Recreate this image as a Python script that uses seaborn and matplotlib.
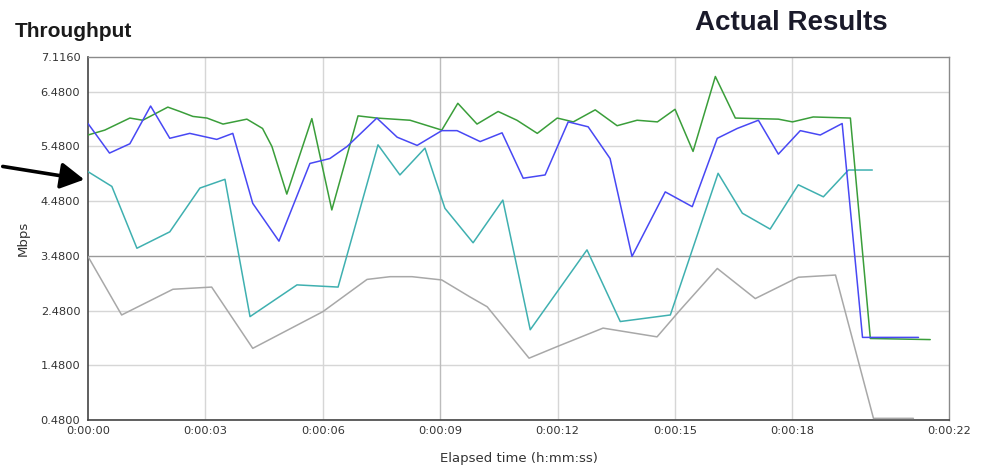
import matplotlib
matplotlib.use("Agg")
import matplotlib.pyplot as plt
import seaborn as sns
import pandas as pd

# Sample times (seconds) and throughput (Mbps) for each pair
green_t = [0.0, 0.43, 1.07, 1.40, 2.04, 2.35, 2.68, 3.04, 3.45, 4.06, 4.46, 4.70, 5.08,
           5.72, 6.23, 6.90, 7.38, 8.23, 9.04, 9.45, 9.94, 10.48, 10.96, 11.48, 11.99,
           12.40, 12.96, 13.52, 14.03, 14.55, 15.00, 15.46, 16.03, 16.54, 17.64, 18.00,
           18.53, 19.48, 19.99, 21.52]
green_v = [5.69, 5.78, 6.00, 5.96, 6.20, 6.12, 6.03, 6.00, 5.89, 5.98, 5.81, 5.48, 4.61,
           5.99, 4.32, 6.04, 6.00, 5.96, 5.78, 6.27, 5.89, 6.12, 5.96, 5.72, 6.00,
           5.93, 6.15, 5.86, 5.96, 5.93, 6.16, 5.39, 6.76, 6.00, 5.98, 5.93,
           6.02, 6.00, 1.97, 1.95]

blue_t = [0.0, 0.55, 1.07, 1.60, 2.09, 2.60, 3.29, 3.70, 4.21, 4.88, 5.67, 6.18, 6.62,
          7.38, 7.90, 8.41, 9.04, 9.43, 10.02, 10.58, 11.12, 11.68, 12.27, 12.78, 13.34,
          13.90, 14.75, 15.44, 16.08, 16.59, 17.13, 17.64, 18.20, 18.71, 19.27, 19.79,
          21.22]
blue_v = [5.90, 5.36, 5.53, 6.22, 5.63, 5.72, 5.61, 5.72, 4.44, 3.75, 5.17, 5.26, 5.48,
          6.00, 5.65, 5.50, 5.77, 5.77, 5.57, 5.73, 4.90, 4.96, 5.93, 5.84, 5.26,
          3.47, 4.65, 4.38, 5.63, 5.81, 5.96, 5.34, 5.77, 5.69, 5.90, 1.99,
          1.99]

teal_t = [0.0, 0.61, 1.25, 2.09, 2.86, 3.50, 4.14, 5.34, 6.39, 7.41, 7.97, 8.61, 9.12,
          9.84, 10.60, 11.30, 12.75, 13.60, 14.88, 16.10, 16.72, 17.43, 18.15, 18.79,
          19.43, 20.04]
teal_v = [5.02, 4.75, 3.62, 3.92, 4.72, 4.88, 2.37, 2.95, 2.91, 5.51, 4.96, 5.45, 4.35,
          3.72, 4.50, 2.13, 3.59, 2.28, 2.40, 4.99, 4.26, 3.97, 4.78, 4.56,
          5.05, 5.05]

grey_t = [0.0, 0.86, 2.17, 3.16, 4.21, 6.00, 7.13, 7.72, 8.28, 9.04, 9.76, 10.20, 11.27,
          11.98, 13.16, 14.54, 15.13, 16.08, 17.05, 18.15, 19.10, 20.07, 21.09]
grey_v = [3.47, 2.40, 2.87, 2.91, 1.79, 2.46, 3.05, 3.10, 3.10, 3.04, 2.73, 2.55, 1.61,
          1.82, 2.16, 2.00, 2.49, 3.25, 2.70, 3.09, 3.13, 0.51, 0.51]

y_ticks = [0.48, 1.48, 2.48, 3.48, 4.48, 5.48, 6.48, 7.116]
y_labels = ["0.4800", "1.4800", "2.4800", "3.4800", "4.4800", "5.4800", "6.4800", "7.1160"]
x_ticks = [0, 3, 6, 9, 12, 15, 18, 22]
x_labels = ["0:00:00", "0:00:03", "0:00:06", "0:00:09", "0:00:12", "0:00:15",
            "0:00:18", "0:00:22"]

sns.set_style("white")
plt.rcParams["font.family"] = ["DejaVu Sans"]

fig = plt.figure(figsize=(9.82, 4.70), dpi=100)
ax = fig.add_axes([0.0896, 0.1064, 0.8768, 0.7723])

# Grid lines behind the traces; the middle lines are drawn a bit darker
for y in y_ticks[:-1]:
    ax.axhline(y, color="#9a9a9a" if y == 3.48 else "#d6d6d6", lw=1.0, zorder=0)
for x in x_ticks[1:-1]:
    ax.axvline(x, color="#bcbcbc" if x == 9 else "#d6d6d6", lw=1.0, zorder=0)

series = [
    (grey_t, grey_v, "#a8a8a8"),
    (teal_t, teal_v, "#3fb0b0"),
    (green_t, green_v, "#3a9e3a"),
    (blue_t, blue_v, "#4848f4"),
]
for t, v, c in series:
    df = pd.DataFrame({"t": t, "v": v})
    sns.lineplot(data=df, x="t", y="v", color=c, linewidth=1.1, ax=ax, zorder=3)

ax.set_xlim(0, 22)
ax.set_ylim(0.48, 7.116)
ax.set_xticks(x_ticks)
ax.set_xticklabels(x_labels)
ax.set_yticks(y_ticks)
ax.set_yticklabels(y_labels)
ax.tick_params(axis="both", labelsize=8.2, colors="#444444", length=4, width=1,
               direction="out", pad=1.5)
ax.tick_params(axis="x", length=3)
for lab in ax.get_xticklabels() + ax.get_yticklabels():
    lab.set_color("#333333")

for side in ["left", "bottom"]:
    ax.spines[side].set_color("#444444")
    ax.spines[side].set_linewidth(1.2)
for side in ["top", "right"]:
    ax.spines[side].set_color("#8a8a8a")
    ax.spines[side].set_linewidth(1.0)

ax.set_xlabel("Elapsed time (h:mm:ss)", fontsize=9.5, color="#333333", labelpad=11.5)
ax.set_ylabel("Mbps", fontsize=9.5, color="#333333")
ax.yaxis.set_label_coords(-0.068, 0.5)

fig.text(0.015, 0.921, "Throughput", fontsize=15, fontweight="bold", color="#1a1a1a",
         family=["Liberation Sans", "DejaVu Sans"], va="baseline")
fig.text(0.806, 0.950, "Actual Results", fontsize=20, fontweight="bold",
         color="#1a1a2a", family=["Liberation Sans", "DejaVu Sans"],
         ha="center", va="center")

# Pointer arrow toward the start of the teal trace
fig.add_artist(matplotlib.patches.FancyArrowPatch(
    (0.0, 1 - 166 / 470), (87 / 982, 1 - 180 / 470),
    transform=fig.transFigure, arrowstyle="-|>,head_length=9,head_width=5",
    color="black", lw=2.6, mutation_scale=1.6))

fig.savefig("out.png", dpi=100)
